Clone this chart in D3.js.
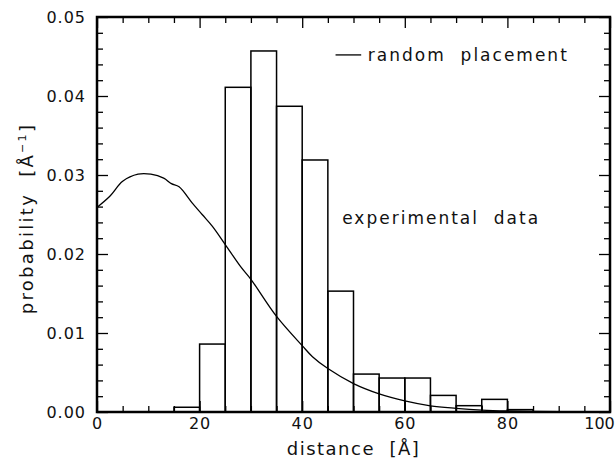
<!DOCTYPE html>
<html>
<head>
<meta charset="utf-8">
<title>distance distribution</title>
<script src="https://cdn.jsdelivr.net/npm/d3@7"></script>
<style>
  body { margin: 0; background: #fff; }
  text { font-family: "DejaVu Sans", sans-serif; fill: #111; white-space: pre; }
</style>
</head>
<body>
<script>
// histogram bins (left edge, width 5) and heights
var binStart = [15, 20, 25, 30, 35, 40, 45, 50, 55, 60, 65, 70, 75, 80];
var binValue = [0.0006, 0.0086, 0.0411, 0.0457, 0.0387, 0.0319, 0.0153, 0.0048, 0.0043, 0.0043, 0.0021, 0.0008, 0.0016, 0.0003];
var binWidth = 5;

// random placement curve
var curveX = [0, 2.5, 5, 8, 10.5, 13, 14.5, 16, 18.5, 20.5, 22.5, 25, 28, 30, 35, 40, 42, 45, 50, 55, 60, 65, 70, 75, 80, 85, 90, 95, 100];
var curveY = [0.0259, 0.0273, 0.0292, 0.0301, 0.0301, 0.0296, 0.0289, 0.0285, 0.0265, 0.0250, 0.0235, 0.0212, 0.0184, 0.0168, 0.0121, 0.0084, 0.0070, 0.0055, 0.0036, 0.0023, 0.0014, 0.00078, 0.00047, 0.00025, 0.00013, 0.00007, 0.00003, 0.00001, 0];

var xTicks = [0, 20, 40, 60, 80, 100];
var yTicks = [0, 0.01, 0.02, 0.03, 0.04, 0.05];

var margin = {top: 17, right: 5, bottom: 56, left: 97},
    width = 615 - margin.left - margin.right,
    height = 468 - margin.top - margin.bottom;

var svg = d3.select('body').append('svg')
    .attr('width', 615).attr('height', 468)
  .append('g')
    .attr('transform', 'translate(' + margin.left + ',' + margin.top + ')');

var x = d3.scaleLinear().domain([0, 100]).range([0, width]);
var y = d3.scaleLinear().domain([0, 0.05]).range([height, 0]);

// bars
svg.selectAll('rect.bar')
  .data(binStart)
  .enter().append('rect')
    .attr('class', 'bar')
    .attr('x', function(d) { return x(d); })
    .attr('y', function(d, i) { return y(binValue[i]); })
    .attr('width', x(binWidth) - x(0))
    .attr('height', function(d, i) { return height - y(binValue[i]); })
    .attr('fill', 'none')
    .attr('stroke', '#000')
    .attr('stroke-width', 1.5);

// curve
var line = d3.line()
    .x(function(d) { return x(d); })
    .y(function(d, i) { return y(curveY[i]); })
    .curve(d3.curveCatmullRom);
svg.append('path')
  .datum(curveX)
  .attr('d', line)
  .attr('fill', 'none')
  .attr('stroke', '#000')
  .attr('stroke-width', 1.3);

// ticks, inward on all four sides
var xMinor = d3.range(0, 101, 5).filter(function(v) { return v % 20 != 0; });
var yMinor = d3.range(0, 0.0501, 0.002).filter(function(v) { return Math.abs(v * 100 - Math.round(v * 100)) > 1e-6; });

function noLabel(g) { g.selectAll('text').remove(); g.select('.domain').remove(); }
function styleLabels(g) {
  g.select('.domain').remove();
  g.selectAll('text').attr('font-family', null)
    .style('font-size', '16px').style('letter-spacing', '1px');
}

var xAx = svg.append('g').attr('transform', 'translate(0,' + height + ')')
  .call(d3.axisBottom(x).tickValues(xTicks).tickSize(-11).tickPadding(6).tickFormat(d3.format('d')))
  .call(styleLabels);
xAx.selectAll('text').filter(function(d) { return d == 100; })
  .attr('dx', -11).style('letter-spacing', '0px');
svg.append('g').attr('transform', 'translate(0,' + height + ')')
  .call(d3.axisBottom(x).tickValues(xMinor).tickSize(-6)).call(noLabel);
svg.append('g')
  .call(d3.axisTop(x).tickValues(xTicks).tickSize(-11)).call(noLabel);
svg.append('g')
  .call(d3.axisTop(x).tickValues(xMinor).tickSize(-6)).call(noLabel);

svg.append('g')
  .call(d3.axisLeft(y).tickValues(yTicks).tickSize(-11).tickPadding(11).tickFormat(d3.format('.2f')))
  .call(styleLabels);
svg.append('g')
  .call(d3.axisLeft(y).tickValues(yMinor).tickSize(-6)).call(noLabel);
svg.append('g').attr('transform', 'translate(' + width + ',0)')
  .call(d3.axisRight(y).tickValues(yTicks).tickSize(-11)).call(noLabel);
svg.append('g').attr('transform', 'translate(' + width + ',0)')
  .call(d3.axisRight(y).tickValues(yMinor).tickSize(-6)).call(noLabel);

svg.selectAll('.tick line').attr('stroke', '#000').attr('stroke-width', 1.3);

// frame
svg.append('rect')
  .attr('x', 0).attr('y', 0).attr('width', width).attr('height', height)
  .attr('fill', 'none').attr('stroke', '#000').attr('stroke-width', 2.5);

// axis labels
svg.append('text')
  .attr('x', width / 2).attr('y', height + 43)
  .attr('text-anchor', 'middle')
  .style('font-size', '18px').style('letter-spacing', '1.5px')
  .text('distance  [Å]');

var yl = svg.append('text')
  .attr('transform', 'translate(-64,' + (height / 2 + 4) + ') rotate(-90)')
  .attr('text-anchor', 'middle')
  .style('font-size', '18px').style('letter-spacing', '2.3px');
yl.append('tspan').text('probability  [Å');
yl.append('tspan').attr('dy', -7).style('font-size', '11px').text('−1');
yl.append('tspan').attr('dy', 7).text(']');

// annotations
svg.append('line')
  .attr('x1', x(46.5)).attr('x2', x(51.5))
  .attr('y1', y(0.0452)).attr('y2', y(0.0452))
  .attr('stroke', '#000').attr('stroke-width', 1.3);
svg.append('text')
  .attr('x', x(52.8)).attr('y', y(0.0452) + 6)
  .style('font-size', '17px').style('letter-spacing', '2px')
  .text('random  placement');
svg.append('text')
  .attr('x', x(47.8)).attr('y', y(0.0245) + 6)
  .style('font-size', '17px').style('letter-spacing', '2px')
  .text('experimental  data');
</script>
</body>
</html>
